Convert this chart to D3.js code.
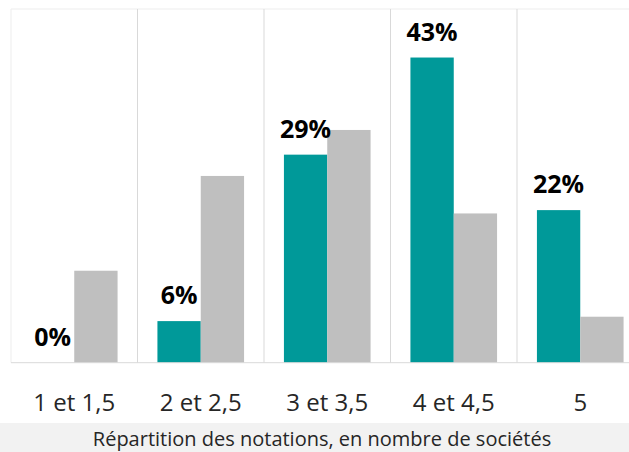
<!DOCTYPE html>
<html>
<head>
<meta charset="utf-8">
<script src="https://cdn.jsdelivr.net/npm/d3@7"></script>
<style>
  body { margin: 0; background: #fff; }
  svg { display: block; font-family: "Open Sans", "Noto Sans", sans-serif; }
</style>
</head>
<body>
<div id="chart"></div>
<script>
// ========================
// Data
// ========================
var categories = ["1 et 1,5", "2 et 2,5", "3 et 3,5", "4 et 4,5", "5"];
var series = ["teal", "grey"];
var tealValues = [0, 5.88, 29.41, 43.14, 21.57];
var greyValues = [13.0, 26.4, 32.9, 21.1, 6.5];
var tealLabels = ["0%", "6%", "29%", "43%", "22%"];
var axisTitle = "Répartition des notations, en nombre de sociétés";

var colors = { teal: "#009999", grey: "#bfbfbf" };

// ========================
// Chart params
// ========================
var svgWidth = 629;
var svgHeight = 452;

var plot = { left: 11, top: 9, bottom: 362.7, step: 126.5 };

var svg = d3.select("#chart")
    .append("svg")
    .attr("width", svgWidth)
    .attr("height", svgHeight);

// scales
var x = d3.scaleBand()
    .domain(categories)
    .range([plot.left, plot.left + plot.step * categories.length])
    .padding(0);

var xSub = d3.scaleBand()
    .domain(series)
    .range([0, x.bandwidth()])
    .paddingInner(0)
    .paddingOuter(0.46);

var y = d3.scaleLinear()
    .domain([0, 50])
    .range([plot.bottom, plot.top]);

// top border line
svg.append("line")
    .attr("x1", plot.left).attr("x2", svgWidth)
    .attr("y1", plot.top).attr("y2", plot.top)
    .attr("stroke", "#ededed")
    .attr("stroke-width", 1);

// vertical gridlines between categories
var boundaries = categories.map(function(c) { return x(c); });
svg.append("g").selectAll("line")
    .data(boundaries)
    .enter()
    .append("line")
    .attr("x1", d => d).attr("x2", d => d)
    .attr("y1", plot.top).attr("y2", plot.bottom)
    .attr("stroke", (d, i) => i === 0 ? "#ededed" : "#d9d9d9")
    .attr("stroke-width", 1);

// bars
var rows = categories.map(function(c, i) {
    return { cat: c, teal: tealValues[i], grey: greyValues[i], label: tealLabels[i] };
});

var groups = svg.append("g").selectAll("g")
    .data(rows)
    .enter()
    .append("g")
    .attr("transform", d => `translate(${x(d.cat)},0)`);

groups.selectAll("rect")
    .data(d => series.map(s => ({ key: s, value: d[s] })))
    .enter()
    .append("rect")
    .attr("x", d => xSub(d.key))
    .attr("width", xSub.bandwidth())
    .attr("y", d => y(d.value))
    .attr("height", d => y(0) - y(d.value))
    .attr("fill", d => colors[d.key]);

// data labels on teal series
groups.append("text")
    .attr("x", xSub("teal") + xSub.bandwidth() / 2)
    .attr("y", d => y(d.teal) - 17)
    .attr("text-anchor", "middle")
    .attr("font-size", 25)
    .attr("font-weight", "bold")
    .attr("fill", "#000")
    .text(d => d.label);

// baseline
svg.append("line")
    .attr("x1", plot.left).attr("x2", svgWidth)
    .attr("y1", plot.bottom).attr("y2", plot.bottom)
    .attr("stroke", "#d9d9d9")
    .attr("stroke-width", 1);

// x axis labels
var xAxis = d3.axisBottom(x).tickSize(0).tickPadding(0);
var axisG = svg.append("g")
    .attr("transform", `translate(0, ${plot.bottom})`)
    .call(xAxis);
axisG.select(".domain").remove();
axisG.selectAll("text")
    .attr("dy", null)
    .attr("y", 48)
    .attr("font-size", 24)
    .attr("font-family", "\"Open Sans\", \"Noto Sans\", sans-serif")
    .attr("fill", "#262626");

// axis title band
svg.append("rect")
    .attr("x", 0).attr("y", 423)
    .attr("width", svgWidth).attr("height", svgHeight - 423)
    .attr("fill", "#f2f2f2");

svg.append("text")
    .attr("x", 322)
    .attr("y", 446)
    .attr("text-anchor", "middle")
    .attr("font-size", 20)
    .attr("fill", "#262626")
    .text(axisTitle);
</script>
</body>
</html>
